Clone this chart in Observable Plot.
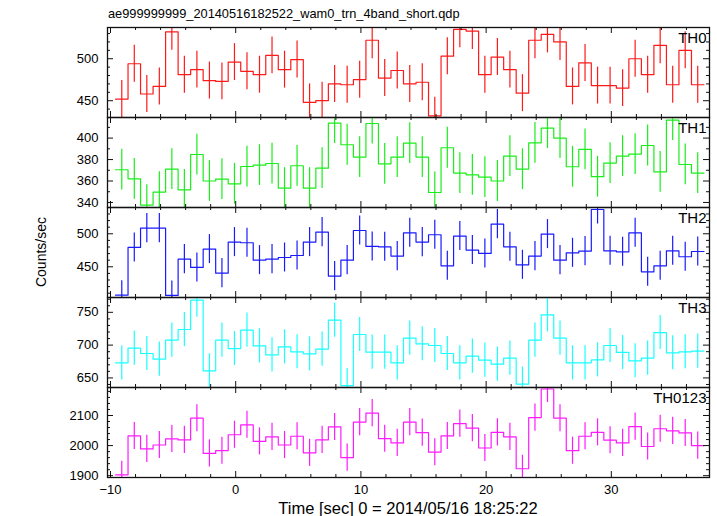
<!DOCTYPE html>
<html><head><meta charset="utf-8">
<script src="https://cdn.jsdelivr.net/npm/d3@7"></script>
<script src="https://cdn.jsdelivr.net/npm/@observablehq/plot@0.6"></script>
<style>
body{margin:0;background:#fff;}
#chart{position:relative;width:717px;height:516px;font-family:"Liberation Sans",Arial,Helvetica,sans-serif;color:#000;overflow:hidden;}
#chart svg{position:absolute;left:0;}
.lbl{position:absolute;white-space:nowrap;line-height:1;}
</style></head><body><div id="chart"></div>
<script>
// ---- data ----
const time = [-9.1,-8.1,-7.1,-6.1,-5.1,-4.1,-3.1,-2.1,-1.1,-0.1,0.9,1.9,2.9,3.9,4.9,5.9,6.9,7.9,8.9,9.9,10.9,11.9,12.9,13.9,14.9,15.9,16.9,17.9,18.9,19.9,20.9,21.9,22.9,23.9,24.9,25.9,26.9,27.9,28.9,29.9,30.9,31.9,32.9,33.9,34.9,35.9,36.9];
const binHalf = 0.5;
const th0 = [452,494,458,467,532,481,487,474,473,496,485,481,504,487,499,448,450,470,469,475,522,477,486,470,472,432,503,535,533,481,502,487,459,522,529,520,467,495,468,468,465,500,481,516,469,510,469];
const th1 = [370.5,362,337.6,349.7,371,351.8,384.7,360,361.8,357.4,373.5,374.8,376.3,353.4,374.2,353.4,372,414,393.8,382.3,413.6,376,382.3,395.3,382.3,349.3,391,367.4,365.8,363.6,360,383.2,371,395.6,409.3,400,373.3,389.4,364,376.7,383.2,385,393.1,368.6,416.8,375.4,367.4];
const th2 = [407,479.3,508.6,508.6,406.6,461.6,449,476.8,440.4,487.4,486.4,460.1,461.6,464.1,467.1,487.4,502.5,435.9,460.1,505,480.8,480.3,466.2,501.5,487.4,498.5,451.5,496.5,475.3,470.2,514.6,480.3,453,466.2,499.5,460.1,471.2,473.7,536.8,474.2,472.7,501.5,442.4,451.5,474.2,465.2,473.2];
const th3 = [673,695.4,687.2,678.6,707.6,723.8,768.6,660.8,707.6,694.8,722.9,698.9,685.2,697.4,689.8,686.7,693.9,738.1,638.4,716.2,689.3,689.3,673,710.7,702,699.4,687.2,673,683.2,677.1,671,680.2,640.5,707.6,746.2,710.7,673,673,677.6,699.4,688.8,676.1,680.2,719.2,688.3,689.8,690.8];
const th0123 = [1903,2032,1989,2002,2022,2019,2091,1974,1983,2036,2069,2014,2029,2002,2031,1976,2019,2062,1960,2078,2108,2023,2009,2078,2043,1978,2032,2073,2058,1992,2044,2029,1923,2093,2188,2091,1983,2031,2044,2018,2009,2063,1997,2056,2049,2042,2000];
const panelNames = ["TH0","TH1","TH2","TH3","TH0123"];
const panelErrors = [22,19,22,26,45];
const yMajorTicks = [[450,500],[340,360,380,400],[450,500],[650,700,750],[1900,2000,2100]];
const yMinorTicks = [[440,460,470,480,490,510,520,530],[350,370,390,410],[410,420,430,440,460,470,480,490,510,520,530],[640,660,670,680,690,710,720,730,740,760,770],[1920,1940,1960,1980,2020,2040,2060,2080,2120,2140,2160,2180]];
const xMajorTicks = [-10,0,10,20,30];
const xMinorTicks = [-8,-6,-4,-2,2,4,6,8,12,14,16,18,22,24,26,28,32,34,36];
const titleText = "ae999999999_20140516182522_wam0_trn_4band_short.qdp";
const xLabelText = "Time [sec] 0 = 2014/05/16 18:25:22";
const yLabelText = "Counts/sec";

// ---- layout / style ----
const series = [th0, th1, th2, th3, th0123];
const panelColors = ["#ff1a1a","#1aee1a","#1a1aff","#1affff","#ff1aff"];
const yDomains = [[430,537.2],[335.3,419.2],[403.5,539.8],[635.4,772.6],[1894,2193]];
const xDomain = [-10.24, 37.84];
const W = 717, ML = 107, MR = 8, PH = 90, TOP = 27;
const innerW = W - ML - MR;
const font = '"Liberation Sans", Arial, Helvetica, sans-serif';
const chart = document.getElementById("chart");
const fmt = d => String(d).replace("-", "\u2212");

function panel(i) {
  const last = i === series.length - 1;
  const values = series[i];
  const color = panelColors[i];
  const err = panelErrors[i];
  const pts = values.flatMap((v, k) => [{t: time[k] - binHalf, v}, {t: time[k] + binHalf, v}]);
  const bars = values.map((v, k) => ({t: time[k], lo: v - err, hi: v + err}));
  const extra = last ? 40 : 0;
  const svg = Plot.plot({
    width: W, height: PH + 2 + extra,
    marginLeft: ML, marginRight: MR, marginTop: 1, marginBottom: 1 + extra,
    style: {background: "transparent", fontSize: "13px", fontFamily: font, color: "#000", overflow: "visible"},
    x: {domain: xDomain, axis: last ? "bottom" : null, ticks: xMajorTicks, tickFormat: fmt, tickSize: 0, tickPadding: 7, label: null},
    y: {domain: yDomains[i], ticks: yMajorTicks[i], tickFormat: fmt, tickSize: 0, tickPadding: 9, label: null},
    marks: [
      Plot.ruleX(bars, {x: "t", y1: "lo", y2: "hi", stroke: color, strokeWidth: 1.2, clip: true}),
      Plot.line(pts, {x: "t", y: "v", stroke: color, strokeWidth: 1.2, clip: true}),
      Plot.ruleX(xMajorTicks, {insetTop: PH - 6, stroke: "#111"}),
      Plot.ruleX(xMajorTicks, {insetBottom: PH - 6, stroke: "#111"}),
      Plot.ruleX(xMinorTicks, {insetTop: PH - 3, stroke: "#111"}),
      Plot.ruleX(xMinorTicks, {insetBottom: PH - 3, stroke: "#111"}),
      Plot.ruleY(yMajorTicks[i], {insetRight: innerW - 6, stroke: "#111"}),
      Plot.ruleY(yMajorTicks[i], {insetLeft: innerW - 6, stroke: "#111"}),
      Plot.ruleY(yMinorTicks[i], {insetRight: innerW - 3, stroke: "#111"}),
      Plot.ruleY(yMinorTicks[i], {insetLeft: innerW - 3, stroke: "#111"}),
      Plot.frame({stroke: "#111", strokeWidth: 1.3}),
      Plot.text([panelNames[i]], {frameAnchor: "top-right", text: d => d, textAnchor: "end", lineAnchor: "top", dx: -3, dy: 5, fontSize: 15, fill: "#000"})
    ]
  });
  svg.style.top = (TOP + PH * i - 1) + "px";
  chart.appendChild(svg);
}
for (let i = 0; i < series.length; i++) panel(i);

function label(text, css) {
  const d = document.createElement("div");
  d.className = "lbl";
  d.textContent = text;
  Object.assign(d.style, css);
  chart.appendChild(d);
}
label(titleText, {left: "108px", top: "8px", fontSize: "12.8px"});
label(xLabelText, {left: "408px", top: "500px", fontSize: "16.5px", transform: "translateX(-50%)"});
label(yLabelText, {left: "41px", top: "252px", fontSize: "14px", transform: "translate(-50%,-50%) rotate(-90deg)"});
</script>
</body></html>
